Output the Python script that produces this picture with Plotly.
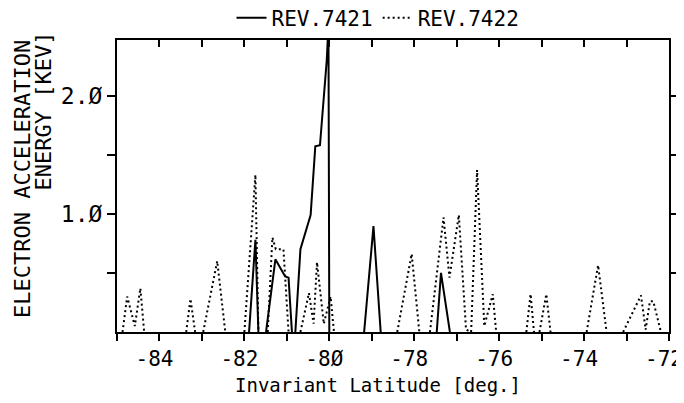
import plotly.graph_objects as go

# REV.7421 (solid); None separates the separate excursions above zero
rev7421_lat = [-81.89, -81.74, -81.67, None,
               -81.49, -81.27, -81.04, -80.96, -80.88, None,
               -80.80, -80.68, -80.44, -80.33, -80.22, -80.06, -80.02, -80.00, None,
               -79.18, -78.96, -78.79, None,
               -77.47, -77.37, -77.16]
rev7421_energy = [0, 0.78, 0, None,
                  0, 0.615, 0.47, 0.46, 0, None,
                  0, 0.70, 0.99, 1.57, 1.58, 2.30, 2.60, 0, None,
                  0, 0.895, 0, None,
                  0, 0.50, 0]

# REV.7422 (dotted)
rev7422_lat = [-84.87, -84.76, -84.58, -84.45, -84.36, None,
               -83.37, -83.27, -83.16, None,
               -82.97, -82.64, -82.45, None,
               -82.00, -81.74, -81.67, None,
               -81.45, -81.34, -81.26, -81.08, -80.96, None,
               -80.68, -80.48, -80.37, -80.29, -80.13, -79.97, -79.89, None,
               -78.40, -78.06, -77.88, None,
               -77.63, -77.31, -77.17, -76.95, -76.78, -76.66, -76.52, -76.35, -76.15, -76.07, None,
               -75.36, -75.26, -75.18, None,
               -75.05, -74.89, -74.79, None,
               -73.94, -73.67, -73.47, None,
               -73.08, -72.66, -72.55, -72.45, -72.37, -72.19]
rev7422_energy = [0, 0.30, 0.05, 0.37, 0, None,
                  0, 0.28, 0, None,
                  0, 0.60, 0, None,
                  0, 1.33, 0, None,
                  0, 0.80, 0.70, 0.70, 0, None,
                  0, 0.33, 0.07, 0.59, 0.07, 0.30, 0, None,
                  0, 0.66, 0, None,
                  0, 0.97, 0.46, 0.99, 0.02, 0, 1.37, 0.05, 0.32, 0, None,
                  0, 0.32, 0, None,
                  0, 0.32, 0, None,
                  0, 0.565, 0, None,
                  0, 0.31, 0.02, 0.26, 0.26, 0]

x_tickvals = [-85, -84, -83, -82, -81, -80, -79, -78, -77, -76, -75, -74, -73, -72]
x_ticktext = ["", "-84", "", "-82", "", "-8\u00d8", "", "-78", "", "-76", "", "-74", "", "-72"]
y_tickvals = [0.5, 1.0, 1.5, 2.0]
y_ticktext = ["", "1.\u00d8", "", "2.\u00d8"]

FONT = "DejaVu Sans Mono"
OFF = 8                      # default page margin of the HTML body
W, H = 684 - OFF, 403 - OFF
# plot area in page pixels: left 117, right 669, top 40, bottom 332
L, T = 117 - OFF, 40 - OFF
R, B = W - (669 - OFF), H - (332 - OFF)
PW, PH = W - L - R, H - T - B


def px_x(page_x):
    return (page_x - OFF - L) / PW


def px_y(page_y):
    return 1 - (page_y - OFF - T) / PH


fig = go.Figure()
fig.add_trace(go.Scatter(x=rev7421_lat, y=rev7421_energy, mode="lines", name="REV.7421",
                         xaxis="x2", connectgaps=False, line=dict(color="black", width=2)))
fig.add_trace(go.Scatter(x=rev7422_lat, y=rev7422_energy, mode="lines", name="REV.7422",
                         connectgaps=False,
                         line=dict(color="black", width=2, dash="2px,3px")))

xr = [-85, -72]
fig.update_layout(
    width=W, height=H,
    margin=dict(l=L, r=R, t=T, b=B, autoexpand=False),
    paper_bgcolor="white", plot_bgcolor="white",
    font=dict(family=FONT, color="black", size=20),
    showlegend=True,
    legend=dict(orientation="h", x=px_x(378), xanchor="center",
                yref="container", y=1 - (18 - OFF) / H, yanchor="middle",
                font=dict(size=21), bgcolor="rgba(0,0,0,0)", itemwidth=30,
                tracegroupgap=0),
    xaxis=dict(range=xr, tickvals=x_tickvals, ticktext=x_ticktext, ticks="outside",
               ticklen=7, tickwidth=2, tickcolor="black", showline=True, linewidth=2,
               linecolor="black", showgrid=False, zeroline=False, tickfont=dict(size=21),
               ticklabelshift=-5, automargin=False),
    xaxis2=dict(range=xr, overlaying="x", side="top", tickvals=x_tickvals,
                ticks="inside", ticklen=7, tickwidth=2, tickcolor="black",
                showticklabels=False, showline=True, linewidth=2, linecolor="black",
                showgrid=False, zeroline=False, automargin=False),
    yaxis=dict(range=[0, 2.47], tickvals=y_tickvals, ticktext=y_ticktext, ticks="outside",
               ticklen=8, tickwidth=2, tickcolor="black", showline=True, linewidth=2,
               linecolor="black", mirror="ticks", showgrid=False, zeroline=False,
               tickfont=dict(size=23), automargin=False),
    annotations=[
        dict(text="Invariant Latitude [deg.]", xref="paper", yref="paper",
             x=px_x(378), y=px_y(385), xanchor="center", yanchor="middle",
             showarrow=False, font=dict(size=19)),
        dict(text="ELECTRON ACCELERATION", textangle=-90, xref="paper", yref="paper",
             x=px_x(22), y=px_y(38), xanchor="center", yanchor="top",
             showarrow=False, font=dict(size=22)),
        dict(text="ENERGY [KEV]", textangle=-90, xref="paper", yref="paper",
             x=px_x(43), y=px_y(30), xanchor="center", yanchor="top",
             showarrow=False, font=dict(size=22)),
    ],
)

fig.write_html("out.html")
